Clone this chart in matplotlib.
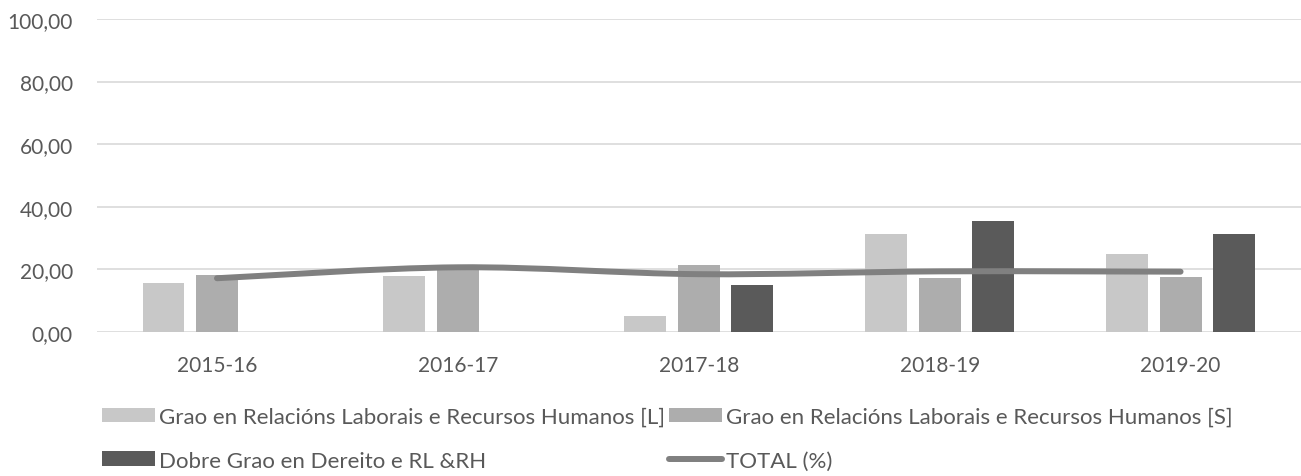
import matplotlib
matplotlib.use('Agg')
import matplotlib.pyplot as plt
import numpy as np
from matplotlib.path import Path
from matplotlib.patches import PathPatch
from matplotlib.lines import Line2D
from matplotlib.ticker import FuncFormatter

years = ['2015-16', '2016-17', '2017-18', '2018-19', '2019-20']
grao_l = [15.5, 17.9, 5.0, 31.1, 24.9]
grao_s = [18.0, 20.2, 21.3, 17.1, 17.4]
dobre = [np.nan, np.nan, 14.8, 35.5, 31.2]
total = [17.1, 20.6, 18.4, 19.3, 19.2]

labels = ['Grao en Relacións Laborais e Recursos Humanos [L]',
          'Grao en Relacións Laborais e Recursos Humanos [S]',
          'Dobre Grao en Dereito e RL &RH',
          'TOTAL (%)']
colors = ['#c8c8c8', '#adadad', '#5a5a5a']
line_color = '#808080'
text_color = '#595959'

plt.rcParams['font.family'] = ['Lato', 'DejaVu Sans']

fig = plt.figure(figsize=(13.01, 4.77), dpi=100)
ax = fig.add_axes([0.0742, 0.3025, 0.9258, 0.6555])

x = np.arange(len(years))
width = 0.174
pitch = 0.222
bars = []
for i, (vals, c) in enumerate(zip([grao_l, grao_s, dobre], colors)):
    b = ax.bar(x + (i - 1) * pitch, vals, width, color=c, zorder=2)
    bars.append(b)

# smoothed line (Excel-style catmull-rom through the points)
pts = np.column_stack([x, total])
verts = [tuple(pts[0])]
codes = [Path.MOVETO]
for i in range(len(pts) - 1):
    p0 = pts[max(i - 1, 0)]
    p1 = pts[i]
    p2 = pts[i + 1]
    p3 = pts[min(i + 2, len(pts) - 1)]
    c1 = p1 + (p2 - p0) / 6
    c2 = p2 - (p3 - p1) / 6
    verts += [tuple(c1), tuple(c2), tuple(p2)]
    codes += [Path.CURVE4] * 3
ax.add_patch(PathPatch(Path(verts, codes), facecolor='none', edgecolor=line_color,
                       lw=4.3, capstyle='round', joinstyle='round', zorder=3))

ax.set_xlim(-0.5, len(years) - 0.5)
ax.set_ylim(0, 100)
ax.set_yticks(np.arange(0, 101, 20))
ax.yaxis.set_major_formatter(FuncFormatter(lambda v, p: f'{v:.2f}'.replace('.', ',')))
ax.set_xticks(x)
ax.set_xticklabels(years)
ax.grid(axis='y', color='#d9d9d9', lw=1.2, zorder=0)
ax.set_axisbelow(True)
for s in ax.spines.values():
    s.set_visible(False)
ax.tick_params(axis='both', length=0, labelsize=15, colors=text_color)
ax.tick_params(axis='y', pad=17)
ax.tick_params(axis='x', pad=17)

handles = [bars[0], bars[2],
           bars[1], Line2D([0], [0], color=line_color, lw=4.3, solid_capstyle='round')]
leg_labels = [labels[0], labels[2], labels[1], labels[3]]
leg = fig.legend(handles, leg_labels, ncol=2, loc='upper left',
                 bbox_to_anchor=(102 / 1301, 1 - 408 / 477), frameon=False,
                 fontsize=16, handlelength=2.4, handleheight=0.63, handletextpad=0.15,
                 columnspacing=0.2, labelspacing=1.06, borderpad=0, borderaxespad=0)
for t in leg.get_texts():
    t.set_color(text_color)

fig.savefig('out.png', dpi=100)
